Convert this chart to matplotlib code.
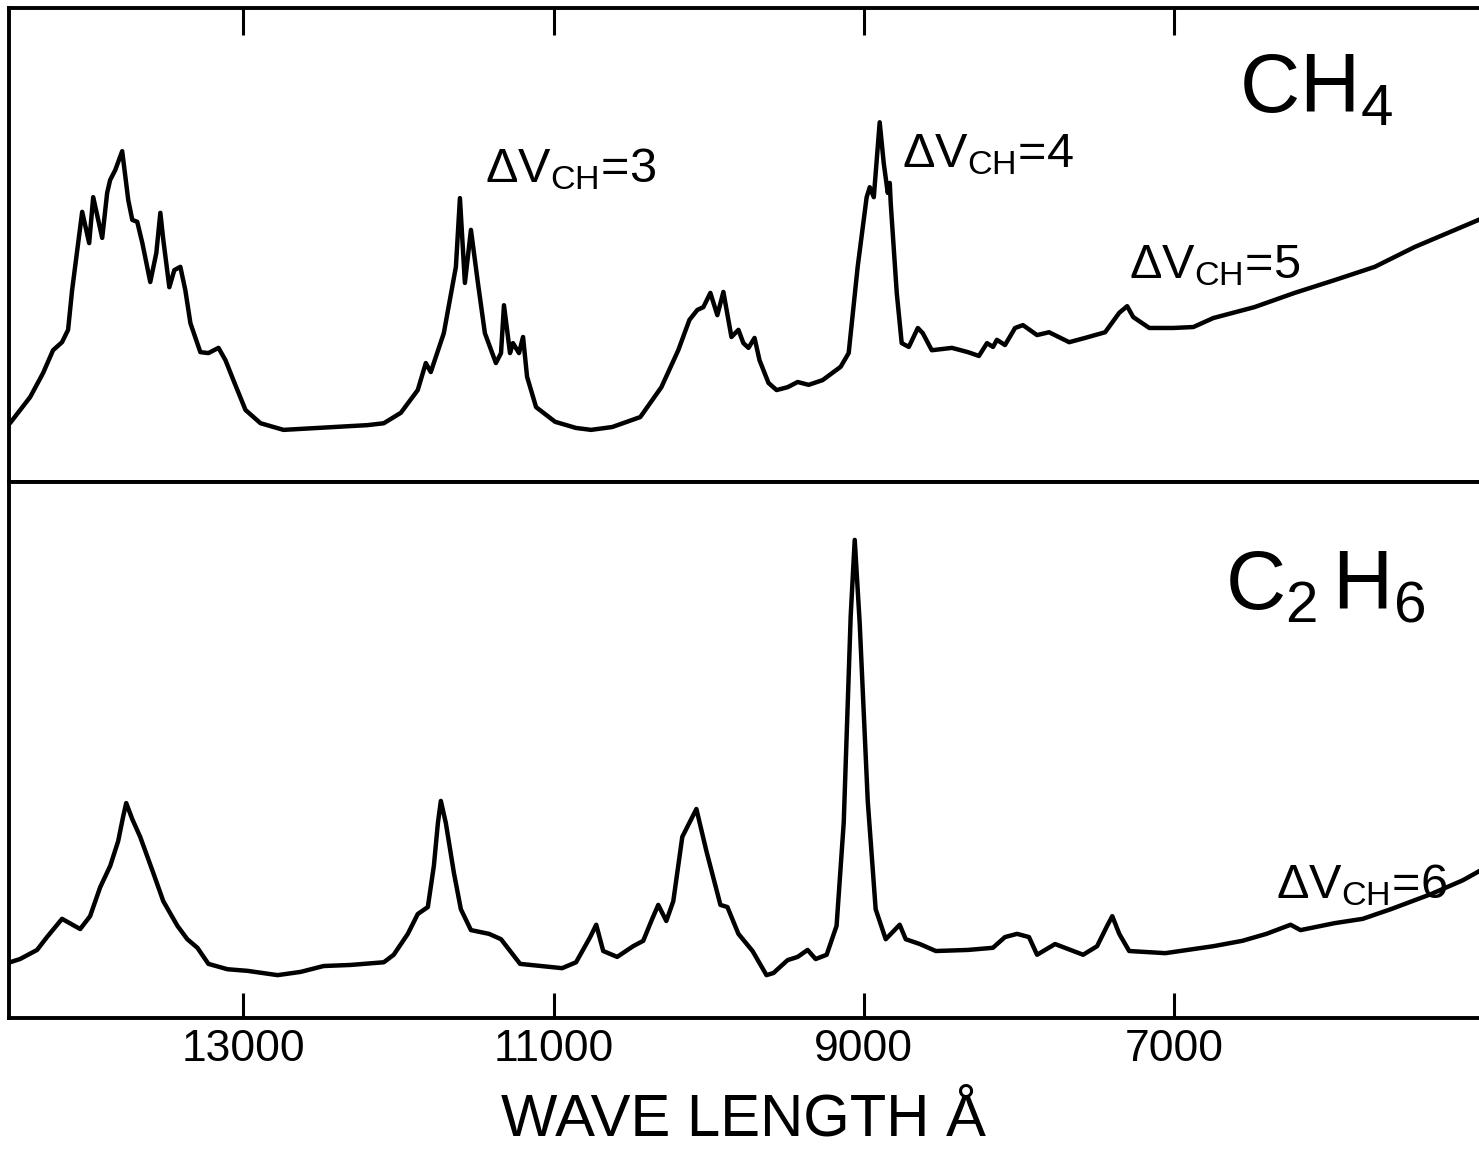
import matplotlib
matplotlib.use("Agg")
import matplotlib.pyplot as plt

plt.rcParams['font.family'] = ['Liberation Sans', 'DejaVu Sans']
plt.rcParams['mathtext.fontset'] = 'custom'
plt.rcParams['mathtext.rm'] = 'Liberation Sans'
plt.rcParams['mathtext.it'] = 'Liberation Sans'
plt.rcParams['mathtext.bf'] = 'Liberation Sans'

# CH4 absorption trace: wavelength (Angstrom) and relative absorption
ch4_wavelength = [
    14506, 14376, 14292, 14228, 14170, 14131, 14105, 14040, 13995, 13969,
    13911, 13879, 13860, 13827, 13782, 13743, 13717, 13685, 13652, 13601,
    13562, 13536, 13517, 13478, 13446, 13407, 13375, 13342, 13278, 13226,
    13161, 13116, 13065, 12987, 12890, 12742, 12522, 12199, 12095, 11985,
    11876, 11824, 11792, 11708, 11630, 11604, 11572, 11533, 11488, 11443,
    11372, 11339, 11320, 11281, 11262, 11223, 11197, 11171, 11113, 10990,
    10855, 10758, 10622, 10441, 10305, 10196, 10124, 10073, 10034, 9989,
    9944, 9905, 9853, 9808, 9776, 9743, 9704, 9672, 9614, 9562,
    9491, 9426, 9355, 9265, 9149, 9097, 9039, 8981, 8961, 8935,
    8897, 8871, 8845, 8832, 8826, 8787, 8755, 8709, 8651, 8619,
    8561, 8431, 8328, 8257, 8205, 8166, 8141, 8089, 8024, 7973,
    7882, 7805, 7675, 7572, 7443, 7352, 7301, 7262, 7158, 7003,
    6874, 6745, 6480, 6221, 5963, 5704, 5446, 5187, 5006,
]
ch4_absorption = [
    12.4, 17.9, 23.0, 27.8, 29.5, 32.1, 40.5, 57.0, 50.4, 60.1,
    51.5, 61.0, 63.7, 65.8, 69.8, 59.5, 55.3, 54.9, 50.4, 42.2,
    48.3, 56.8, 51.1, 41.1, 44.7, 45.4, 40.5, 33.5, 27.4, 27.2,
    28.3, 25.7, 21.5, 15.2, 12.4, 11.0, 11.4, 12.0, 12.4, 14.6,
    19.4, 25.1, 23.2, 31.4, 45.4, 59.9, 42.0, 53.2, 42.0, 31.4,
    25.1, 27.2, 37.3, 27.2, 29.3, 27.2, 30.6, 22.2, 15.8, 12.7,
    11.4, 11.0, 11.6, 13.7, 20.0, 27.8, 34.2, 36.3, 36.9, 39.9,
    35.2, 40.1, 30.6, 32.1, 29.3, 28.3, 30.4, 25.7, 20.9, 19.4,
    20.0, 21.1, 20.5, 21.5, 24.3, 27.2, 45.4, 60.1, 62.2, 60.1,
    75.9, 67.3, 61.0, 63.1, 58.9, 39.9, 29.3, 28.5, 32.5, 31.4,
    27.8, 28.3, 27.4, 26.6, 29.3, 28.5, 30.0, 28.9, 32.5, 33.1,
    31.0, 31.6, 29.5, 30.4, 31.6, 35.7, 37.1, 34.8, 32.5, 32.5,
    32.7, 34.6, 36.9, 39.9, 42.6, 45.4, 49.6, 53.2, 55.7,
]

# C2H6 absorption trace
c2h6_wavelength = [
    14506, 14441, 14331, 14267, 14170, 14053, 13989, 13924, 13859, 13808,
    13775, 13756, 13717, 13666, 13582, 13517, 13426, 13362, 13297, 13226,
    13103, 12974, 12780, 12632, 12483, 12309, 12095, 12031, 11940, 11876,
    11811, 11772, 11746, 11727, 11695, 11643, 11598, 11533, 11416, 11339,
    11216, 11081, 10945, 10855, 10764, 10725, 10680, 10590, 10487, 10422,
    10364, 10325, 10273, 10228, 10170, 10079, 10015, 9924, 9879, 9808,
    9717, 9627, 9582, 9491, 9426, 9362, 9310, 9239, 9175, 9129,
    9084, 9058, 9026, 8974, 8923, 8858, 8768, 8729, 8638, 8535,
    8328, 8167, 8089, 8011, 7934, 7882, 7766, 7585, 7495, 7430,
    7397, 7352, 7288, 7055, 6745, 6558, 6403, 6247, 6183, 5963,
    5782, 5601, 5343, 5136, 5006,
]
c2h6_absorption = [
    10.4, 11.0, 12.7, 15.1, 18.5, 16.6, 19.0, 24.4, 28.4, 33.0,
    37.7, 40.1, 37.1, 33.8, 27.1, 21.8, 17.2, 14.7, 13.1, 10.1,
    9.1, 8.8, 8.0, 8.6, 9.7, 9.9, 10.4, 11.8, 15.7, 19.4,
    20.7, 28.4, 36.4, 40.5, 36.4, 27.1, 20.3, 16.4, 15.7, 14.7,
    10.1, 9.7, 9.3, 10.4, 15.1, 17.4, 12.5, 11.4, 13.4, 14.4,
    18.5, 21.1, 18.1, 21.8, 33.8, 39.0, 31.2, 21.1, 20.7, 15.7,
    12.5, 8.0, 8.4, 10.8, 11.4, 12.7, 11.0, 11.8, 17.2, 36.4,
    75.0, 89.2, 73.7, 40.5, 20.3, 14.7, 17.4, 14.7, 13.8, 12.5,
    12.7, 13.1, 15.1, 15.7, 15.1, 11.8, 13.8, 11.8, 13.4, 17.2,
    19.0, 15.7, 12.5, 12.1, 13.4, 14.4, 15.7, 17.4, 16.4, 17.7,
    18.5, 20.3, 23.1, 25.7, 27.8,
]

tick_values = [13000, 11000, 9000, 7000]
tick_labels = ["13000", "11000", "9000", "7000"]
x_range = (14512, 5013)

fig = plt.figure(figsize=(14.79, 11.49), dpi=100)
fig.patch.set_facecolor("white")

left = 9 / 1479
width = 1 - left + 0.002
ax_top = fig.add_axes([left, 0.5805, width, 0.4125])
ax_bot = fig.add_axes([left, 0.1140, width, 0.4665])

for ax in (ax_top, ax_bot):
    ax.set_xlim(*x_range)
    ax.set_ylim(0, 100)
    ax.set_yticks([])
    ax.spines['right'].set_visible(False)
    for s in ('left', 'top', 'bottom'):
        ax.spines[s].set_linewidth(2.8)
        ax.spines[s].set_color('black')
    ax.set_facecolor('white')

ax_top.plot(ch4_wavelength, ch4_absorption, color='black', lw=3.2,
            solid_joinstyle='round', solid_capstyle='round')
ax_bot.plot(c2h6_wavelength, c2h6_absorption, color='black', lw=3.2,
            solid_joinstyle='round', solid_capstyle='round')

# Top panel: ticks hang down from the top edge, no labels
ax_top.set_xticks(tick_values)
ax_top.tick_params(axis='x', which='both', direction='in', length=19.5,
                   width=2.2, top=True, bottom=False,
                   labeltop=False, labelbottom=False)

# Bottom panel: ticks rise from the bottom edge with labels below
ax_bot.set_xticks(tick_values)
ax_bot.set_xticklabels(tick_labels)
ax_bot.tick_params(axis='x', which='both', direction='in', length=18,
                   width=2.2, top=False, bottom=True, labelsize=32, pad=8)

fig.text(0.503, 0.012, "WAVE LENGTH Å", ha='center', va='baseline',
         fontsize=43)

# Molecule names
ax_top.text(6577, 77.8, r"CH$_4$", fontsize=60, ha='left', va='baseline')
ax_bot.text(6667, 76.3, r"C$_2\,$H$_6$", fontsize=60, ha='left', va='baseline')

# Overtone band labels
label_size = 35
ax_top.text(11443, 63.3, r"$\Delta\mathrm{V}_{\mathrm{CH}}$=3",
            fontsize=label_size, ha='left', va='baseline')
ax_top.text(8754, 66.5, r"$\Delta\mathrm{V}_{\mathrm{CH}}$=4",
            fontsize=label_size, ha='left', va='baseline')
ax_top.text(7288, 43.0, r"$\Delta\mathrm{V}_{\mathrm{CH}}$=5",
            fontsize=label_size, ha='left', va='baseline')
ax_bot.text(6338, 22.4, r"$\Delta\mathrm{V}_{\mathrm{CH}}$=6",
            fontsize=label_size, ha='left', va='baseline')

fig.savefig("out.png", dpi=100, facecolor="white")
